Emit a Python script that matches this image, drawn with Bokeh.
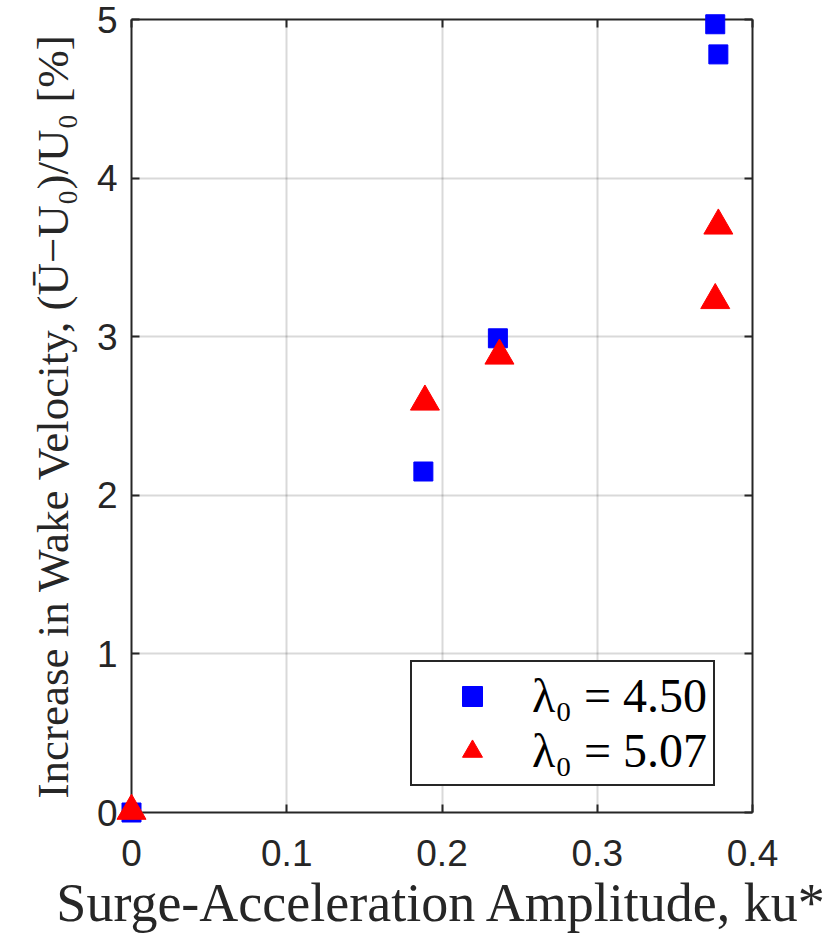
from bokeh.plotting import figure
from bokeh.models import LinearAxis, Range1d, Legend, LegendItem, FixedTicker
from bokeh.embed import file_html
from bokeh.resources import INLINE

# Data
x_45 = [0.0, 0.188, 0.236, 0.376, 0.378]
y_45 = [0.0, 2.15, 2.99, 4.97, 4.78]
x_507 = [0.0, 0.189, 0.237, 0.378, 0.376]
y_507 = [0.01, 2.59, 2.88, 3.70, 3.23]
x_ticks = [0, 0.1, 0.2, 0.3, 0.4]
x_tick_labels = {0: "0", 0.1: "0.1", 0.2: "0.2", 0.3: "0.3", 0.4: "0.4"}
y_ticks = [0, 1, 2, 3, 4, 5]
label_45 = "λ₀ = 4.50"
label_507 = "λ₀ = 5.07"

SANS = "Liberation Sans"
SERIF = "Liberation Serif"

p = figure(width=830, height=943, output_backend="svg", toolbar_location=None,
           x_range=Range1d(0, 0.4), y_range=Range1d(0, 5),
           min_border_left=131, min_border_right=78, min_border_top=19, min_border_bottom=131)
p.outline_line_color = None
p.background_fill_color = "white"

r1 = p.scatter(x_45, y_45, marker="square", size=19, fill_color="#0000FF", line_color="#0000FF",
               level="overlay")
r2 = p.scatter(x_507, y_507, marker="triangle", size=29, fill_color="#FF0000", line_color="#FF0000",
               level="overlay")

for ax in (p.xaxis[0], p.yaxis[0]):
    ax.major_tick_in = 8
    ax.major_tick_out = 0
    ax.minor_tick_line_color = None
    ax.axis_line_color = "#262626"
    ax.axis_line_width = 2
    ax.major_tick_line_color = "#262626"
    ax.major_tick_line_width = 2
    ax.major_label_text_font = SANS
    ax.major_label_text_font_size = "37px"
    ax.major_label_text_color = "#262626"
    ax.axis_label_text_font = SERIF
    ax.axis_label_text_font_style = "normal"
    ax.axis_label_text_color = "#262626"

p.xaxis[0].ticker = FixedTicker(ticks=x_ticks)
p.xaxis[0].major_label_overrides = x_tick_labels
p.yaxis[0].ticker = FixedTicker(ticks=y_ticks)
p.xaxis[0].axis_label = "Surge-Acceleration Amplitude, ku*"
p.yaxis[0].axis_label = "Increase in Wake Velocity, (Ū−U₀)/U₀ [%]"
p.xaxis[0].axis_label_text_font_size = "54px"
p.yaxis[0].axis_label_text_font_size = "45px"
p.xaxis[0].major_label_standoff = 27
p.yaxis[0].major_label_standoff = 14
p.xaxis[0].axis_label_standoff = 4
p.yaxis[0].axis_label_standoff = 16

top = LinearAxis(ticker=FixedTicker(ticks=x_ticks))
right = LinearAxis(ticker=FixedTicker(ticks=y_ticks))
for ax in (top, right):
    ax.major_tick_in = 8
    ax.major_tick_out = 0
    ax.minor_tick_line_color = None
    ax.axis_line_color = "#262626"
    ax.axis_line_width = 2
    ax.major_tick_line_color = "#262626"
    ax.major_tick_line_width = 2
    ax.major_label_text_font_size = "0px"
    ax.major_label_text_color = None
    ax.major_label_standoff = 0
p.add_layout(top, "above")
p.add_layout(right, "right")

p.xgrid.ticker = FixedTicker(ticks=x_ticks)
p.ygrid.ticker = FixedTicker(ticks=y_ticks)
p.grid.grid_line_color = "#000000"
p.grid.grid_line_alpha = 0.15
p.grid.grid_line_width = 2

legend = Legend(items=[LegendItem(label=label_45, renderers=[r1]),
                       LegendItem(label=label_507, renderers=[r2])],
                location=(279, 26))
legend.label_text_font = SERIF
legend.label_text_font_size = "48px"
legend.label_text_color = "black"
legend.border_line_color = "#262626"
legend.border_line_alpha = 1.0
legend.border_line_width = 2
legend.background_fill_color = "white"
legend.background_fill_alpha = 1
legend.glyph_width = 108
legend.glyph_height = 50
legend.label_standoff = 6
legend.padding = 6
legend.margin = 0
legend.spacing = 0
legend.label_height = 50
p.add_layout(legend)

open("out.html", "w").write(file_html(p, INLINE))
